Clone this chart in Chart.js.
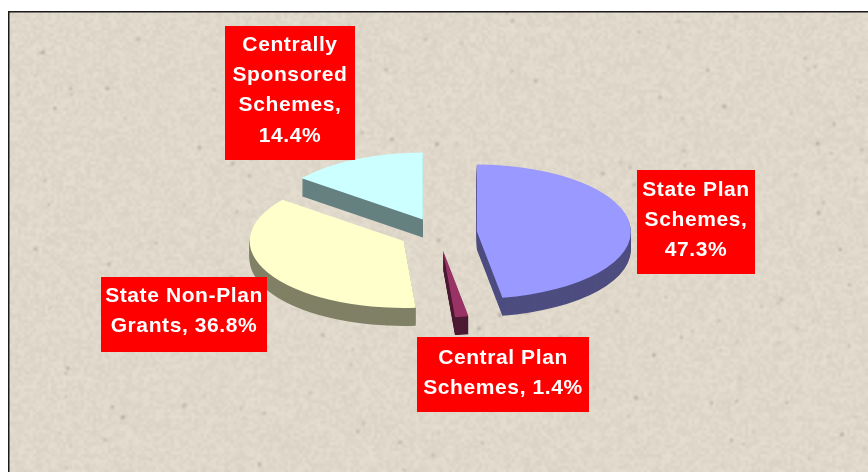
<!DOCTYPE html>
<html>
<head>
<meta charset="utf-8">
<title>Pie</title>
<script src="https://cdn.jsdelivr.net/npm/chart.js@4/dist/chart.umd.js"></script>
<style>
  html, body { margin: 0; padding: 0; background: #fff; overflow: hidden; }
  canvas { display: block; }
</style>
</head>
<body>
<canvas id="pie" width="868" height="472"></canvas>
<script>
const categories = ["State Plan Schemes", "Central Plan Schemes", "State Non-Plan Grants", "Centrally Sponsored Schemes"];
const shares = [47.3, 1.4, 36.8, 14.4];
const topColors = ["#9999FF", "#993366", "#FFFFCC", "#CCFFFF"];
const sideColors = ["#4D4D80", "#4D1A33", "#808066", "#668080"];
const labelLines = [
  ["State Plan", "Schemes,", "47.3%"],
  ["Central Plan", "Schemes, 1.4%"],
  ["State Non-Plan", "Grants, 36.8%"],
  ["Centrally", "Sponsored", "Schemes,", "14.4%"]
];
// label boxes: left, top, right, bottom, centre of first text line
const labelBoxes = [
  [637, 170, 755, 274, 190],
  [417, 337, 589, 412, 358],
  [101, 277, 267, 352, 296],
  [225, 26, 355, 160, 45]
];

const SQUASH = 0.435;
const DEPTH = 18;
const EXPLODE = [39, 40, 39, 34.5];
const DRAW_ORDER = [3, 2, 0, 1];

// textura de fundo (pedra), gerador fixo para sair sempre igual
function makeTexture(w, h) {
  let seed = 12345;
  const rnd = () => (seed = (seed * 1664525 + 1013904223) % 4294967296) / 4294967296;
  const small = document.createElement("canvas");
  small.width = Math.ceil(w / 3);
  small.height = Math.ceil(h / 3);
  const sctx = small.getContext("2d");
  const img = sctx.createImageData(small.width, small.height);
  for (let i = 0; i < img.data.length; i += 4) {
    const n = (rnd() - 0.5) * 13;
    img.data[i] = 224 + n;
    img.data[i + 1] = 216 + n;
    img.data[i + 2] = 203 + n;
    img.data[i + 3] = 255;
  }
  sctx.putImageData(img, 0, 0);
  const big = document.createElement("canvas");
  big.width = w;
  big.height = h;
  const bctx = big.getContext("2d");
  bctx.imageSmoothingEnabled = true;
  bctx.drawImage(small, 0, 0, w, h);
  bctx.filter = "blur(0.8px)";
  for (let i = 0; i < 230; i++) {
    const a = 0.1 + rnd() * 0.28;
    bctx.fillStyle = "rgba(100,92,82," + a + ")";
    bctx.beginPath();
    bctx.arc(rnd() * w, rnd() * h, 0.8 + rnd() * 1.3, 0, Math.PI * 2);
    bctx.fill();
  }
  return big;
}

const backdrop = {
  id: "backdrop",
  beforeDraw(chart) {
    const { ctx, width, height } = chart;
    ctx.save();
    ctx.fillStyle = "#fff";
    ctx.fillRect(0, 0, width, height);
    ctx.drawImage(makeTexture(width - 9, height - 12), 9, 12);
    ctx.fillStyle = "#1a1a1a";
    ctx.fillRect(8, 11, width - 8, 1.5);
    ctx.fillRect(8, 11, 1.5, height - 11);
    ctx.restore();
  }
};

// pizza 3D: os arcos do Chart.js achatados, com extrusão e explosão
const tiltedPie = {
  id: "tiltedPie",
  beforeDatasetDraw(chart, args) {
    const { ctx } = chart;
    const arcs = args.meta.data;
    DRAW_ORDER.forEach(i => {
      const arc = arcs[i];
      const mid = (arc.startAngle + arc.endAngle) / 2;
      const dx = Math.cos(mid) * EXPLODE[i];
      const dy = Math.sin(mid) * EXPLODE[i];
      const side = Object.create(arc);
      side.options = Object.assign({}, arc.options, { backgroundColor: sideColors[i], borderWidth: 0 });
      for (let d = DEPTH; d >= 0; d--) {
        ctx.save();
        ctx.translate(arc.x, arc.y + d);
        ctx.scale(1, SQUASH);
        ctx.translate(dx - arc.x, dy - arc.y);
        (d === 0 ? arc : side).draw(ctx);
        ctx.restore();
      }
    });
    return false;
  }
};

const calloutLabels = {
  id: "calloutLabels",
  afterDatasetsDraw(chart) {
    const { ctx } = chart;
    ctx.save();
    labelBoxes.forEach((box, i) => {
      const [l, t, r, b, firstY] = box;
      ctx.fillStyle = "#FF0000";
      ctx.fillRect(l, t, r - l, b - t);
      ctx.fillStyle = "#FFFFFF";
      ctx.font = "bold 21px 'Liberation Sans', Arial, sans-serif";
      ctx.letterSpacing = "0.6px";
      ctx.textAlign = "center";
      ctx.textBaseline = "middle";
      labelLines[i].forEach((line, n) => ctx.fillText(line, (l + r) / 2, firstY + n * 30.3));
    });
    ctx.restore();
  }
};

new Chart(document.getElementById("pie"), {
  type: "pie",
  data: {
    labels: categories,
    datasets: [{
      data: shares,
      backgroundColor: topColors,
      borderWidth: 0,
      radius: 154,
      clip: false
    }]
  },
  options: {
    responsive: false,
    animation: false,
    layout: { padding: { left: 8, top: 0, right: 0, bottom: 6 } },
    plugins: { legend: { display: false }, tooltip: { enabled: false } }
  },
  plugins: [backdrop, tiltedPie, calloutLabels]
});
</script>
</body>
</html>
